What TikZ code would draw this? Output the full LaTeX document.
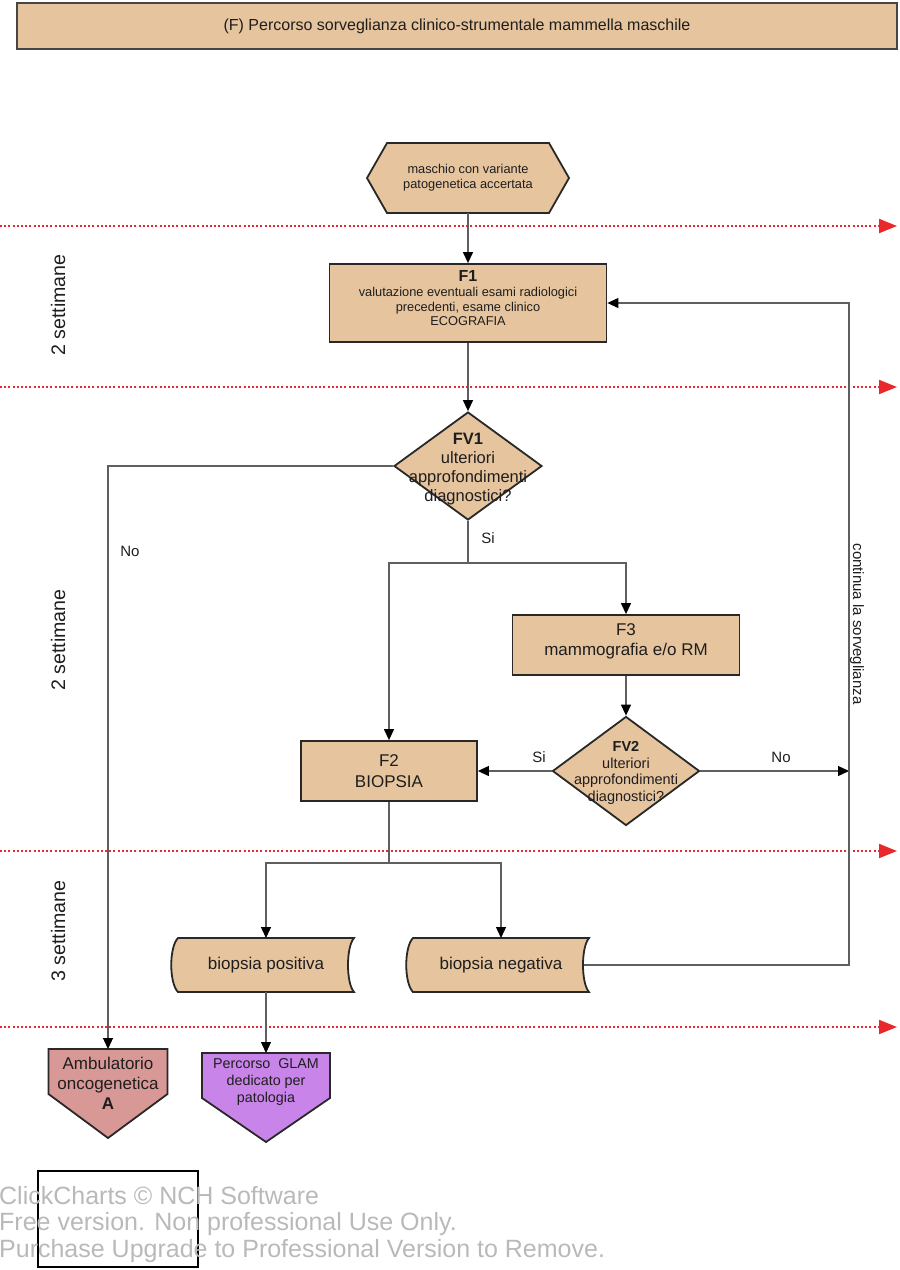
\documentclass[tikz,border=0pt]{standalone}
\usepackage{fontspec}
\setmainfont{Liberation Sans}
\usetikzlibrary{arrows.meta,shapes.geometric,backgrounds,calc}
\definecolor{tanfill}{RGB}{230,196,158}
\definecolor{pinkfill}{RGB}{216,152,150}
\definecolor{purplefill}{RGB}{200,132,232}
\definecolor{bordercol}{RGB}{40,40,40}
\definecolor{conngray}{RGB}{95,95,95}
\definecolor{sepred}{RGB}{232,40,42}
\definecolor{wmgray}{RGB}{185,185,185}
\definecolor{txtcol}{RGB}{30,30,30}
\newcommand\fsz[2]{\fontsize{#1}{#2}\selectfont}
\begin{document}
\begin{tikzpicture}[x=1pt,y=-1pt,
  shapeline/.style={draw=bordercol, line width=1.8pt},
  boxnode/.style={shapeline, fill=tanfill, inner sep=0pt},
  diam/.style={diamond, shapeline, fill=tanfill, inner sep=0pt},
  ghost/.style={inner sep=0pt, outer sep=0pt, align=center},
  conn/.style={draw=conngray, line width=1.2pt},
  arr/.style={conn, -{Triangle[length=11pt,width=10pt,color=black]}},
  sepline/.style={draw=sepred, line width=2pt, dash pattern=on 2pt off 2.2pt, -{Triangle[length=18pt,width=14pt,color=sepred]}},
  lbl/.style={inner sep=0pt, align=center, text=txtcol},
  wm/.style={anchor=west, inner sep=0pt, text=wmgray, font=\fsz{25}{28}}]
\useasboundingbox (0,0) rectangle (900,1270);

% title
\node[boxnode, draw={rgb,255:red,70;green,70;blue,70}, line width=1.5pt, minimum width=880, minimum height=46, text=txtcol, font=\fsz{16}{18}] (title) at (457,26) {(F) Percorso sorveglianza clinico-strumentale mammella maschile};

% separators
\foreach \yy/\nm in {226/a,387/b,851/c,1027/d}{
  \coordinate (sep\nm s) at (0,\yy);
  \coordinate (sep\nm e) at (897,\yy);
  \draw[sepline] (sep\nm s) -- (sep\nm e);
}

% start hexagon
\node[ghost, minimum width=202, minimum height=70, text=txtcol, font=\fsz{12.8}{15}] (start) at (468,178) {maschio con variante\\patogenetica accertata};
% F1
\node[boxnode, minimum width=277, minimum height=78] (f1) at (468,303) {};
\node[lbl, font=\fsz{12.8}{14.6}] (f1t) at (468,298) {{\fsz{16}{19}\textbf{F1}}\\[1pt]valutazione eventuali esami radiologici\\precedenti, esame clinico\\ECOGRAFIA};
% FV1
\node[diam, minimum width=148, minimum height=108] (fv1) at (468,466) {};
\node[lbl, font=\fsz{16.5}{19.2}] (fv1t) at (468,469) {\textbf{FV1}\\ulteriori\\approfondimenti\\diagnostici?};
% F3
\node[boxnode, minimum width=227, minimum height=60] (f3) at (626,645) {};
\node[lbl, font=\fsz{17}{20}] (f3t) at (626,641) {F3\\mammografia e/o RM};
% FV2
\node[diam, minimum width=147, minimum height=109] (fv2) at (626,771) {};
\node[lbl, font=\fsz{14.5}{16.7}] (fv2t) at (626,773) {\textbf{FV2}\\ulteriori\\approfondimenti\\diagnostici?};
% F2
\node[boxnode, minimum width=176, minimum height=60] (f2) at (389,771) {};
\node[lbl, font=\fsz{17}{21}] (f2t) at (389,771) {F2\\BIOPSIA};
% stored data shapes
\node[ghost, minimum width=176, minimum height=54, text=txtcol, font=\fsz{17}{20}] (bpos) at (266,965) {biopsia positiva};
\node[ghost, minimum width=176, minimum height=54, text=txtcol, font=\fsz{17}{20}] (bneg) at (501,965) {biopsia negativa};
% end pentagons
\node[ghost, minimum width=119, minimum height=89] (amb) at (108,1093.5) {};
\node[lbl, font=\fsz{17}{20}] (ambt) at (108,1083) {Ambulatorio\\oncogenetica\\\textbf{A}};
\node[ghost, minimum width=128, minimum height=89] (glam) at (266,1097.5) {};
\node[lbl, font=\fsz{14.3}{17}] (glamt) at (266,1082) {Percorso\ \ GLAM\\dedicato per\\patologia};

\begin{scope}[on background layer]
  \draw[shapeline, fill=tanfill] (start.west) -- ([xshift=20pt]start.north west) -- ([xshift=-20pt]start.north east) -- (start.east) -- ([xshift=-20pt]start.south east) -- ([xshift=20pt]start.south west) -- cycle;
  \foreach \n in {bpos,bneg}{
    \draw[shapeline, fill=tanfill] (\n.north west) -- (\n.north east) .. controls +(-8,9) and +(-8,-9) .. (\n.south east) -- (\n.south west) .. controls +(-9,-9) and +(-9,9) .. (\n.north west) -- cycle;
  }
  \draw[shapeline, fill=pinkfill] (amb.north west) -- (amb.north east) -- ([yshift=44pt]amb.south east) -- (amb.south) -- ([yshift=44pt]amb.south west) -- cycle;
  \draw[shapeline, fill=purplefill] (glam.north west) -- (glam.north east) -- ([yshift=44pt]glam.south east) -- (glam.south) -- ([yshift=44pt]glam.south west) -- cycle;
\end{scope}

% connectors
\coordinate (s1) at (468,563);
\coordinate (s2) at (389,863);
\coordinate (fb) at (849,302);
\draw[arr] (start.south) -- (f1.north);
\draw[arr] (f1.south) -- (fv1.north);
\draw[conn] (fv1.south) -- (s1);
\draw[arr] (s1) -| (f3.north);
\draw[arr] (s1) -| (f2.north);
\draw[arr] (f3.south) -- (fv2.north);
\draw[arr] (fv2.west) -- (f2.east);
\draw[arr] (fv2.east) -- (fv2.east -| fb);
\draw[arr] ([xshift=-5pt]bneg.east) -- (bneg.east -| fb) -- (fb |- f1.east) -- (f1.east);
\draw[arr] (fv1.west) -| (amb.north);
\draw[conn] (f2.south) -- (s2);
\draw[arr] (s2) -| (bpos.north);
\draw[arr] (s2) -| (bneg.north);
\draw[arr] (bpos.south) -- (glam.north);

% connector labels
\node[lbl, font=\fsz{15}{18}] (lno1) at (130,551) {No};
\node[lbl, font=\fsz{15}{18}] (lsi1) at (488,538) {Si};
\node[lbl, font=\fsz{15}{18}] (lsi2) at (539,757) {Si};
\node[lbl, font=\fsz{15}{18}] (lno2) at (781,757) {No};
\node[lbl, rotate=-90, font=\fsz{15}{18}] (lcont) at (857,624) {continua la sorveglianza};

% time labels
\node[lbl, rotate=90, font=\fsz{19.6}{22}] (t1) at (58,305) {2 settimane};
\node[lbl, rotate=90, font=\fsz{19.6}{22}] (t2) at (58,640) {2 settimane};
\node[lbl, rotate=90, font=\fsz{19.6}{22}] (t3) at (58,931) {3 settimane};

% watermark
\node[draw=black, line width=1.5pt, minimum width=160, minimum height=96, inner sep=0pt] (wmbox) at (118,1219) {};
\node[wm] (wm1) at (-1,1196) {ClickCharts © NCH Software};
\node[wm] (wm2) at (-1,1224) {Free version. Non professional Use Only.};
\node[wm] (wm3) at (-1,1251) {Purchase Upgrade to Professional Version to Remove.};
\end{tikzpicture}
\end{document}
